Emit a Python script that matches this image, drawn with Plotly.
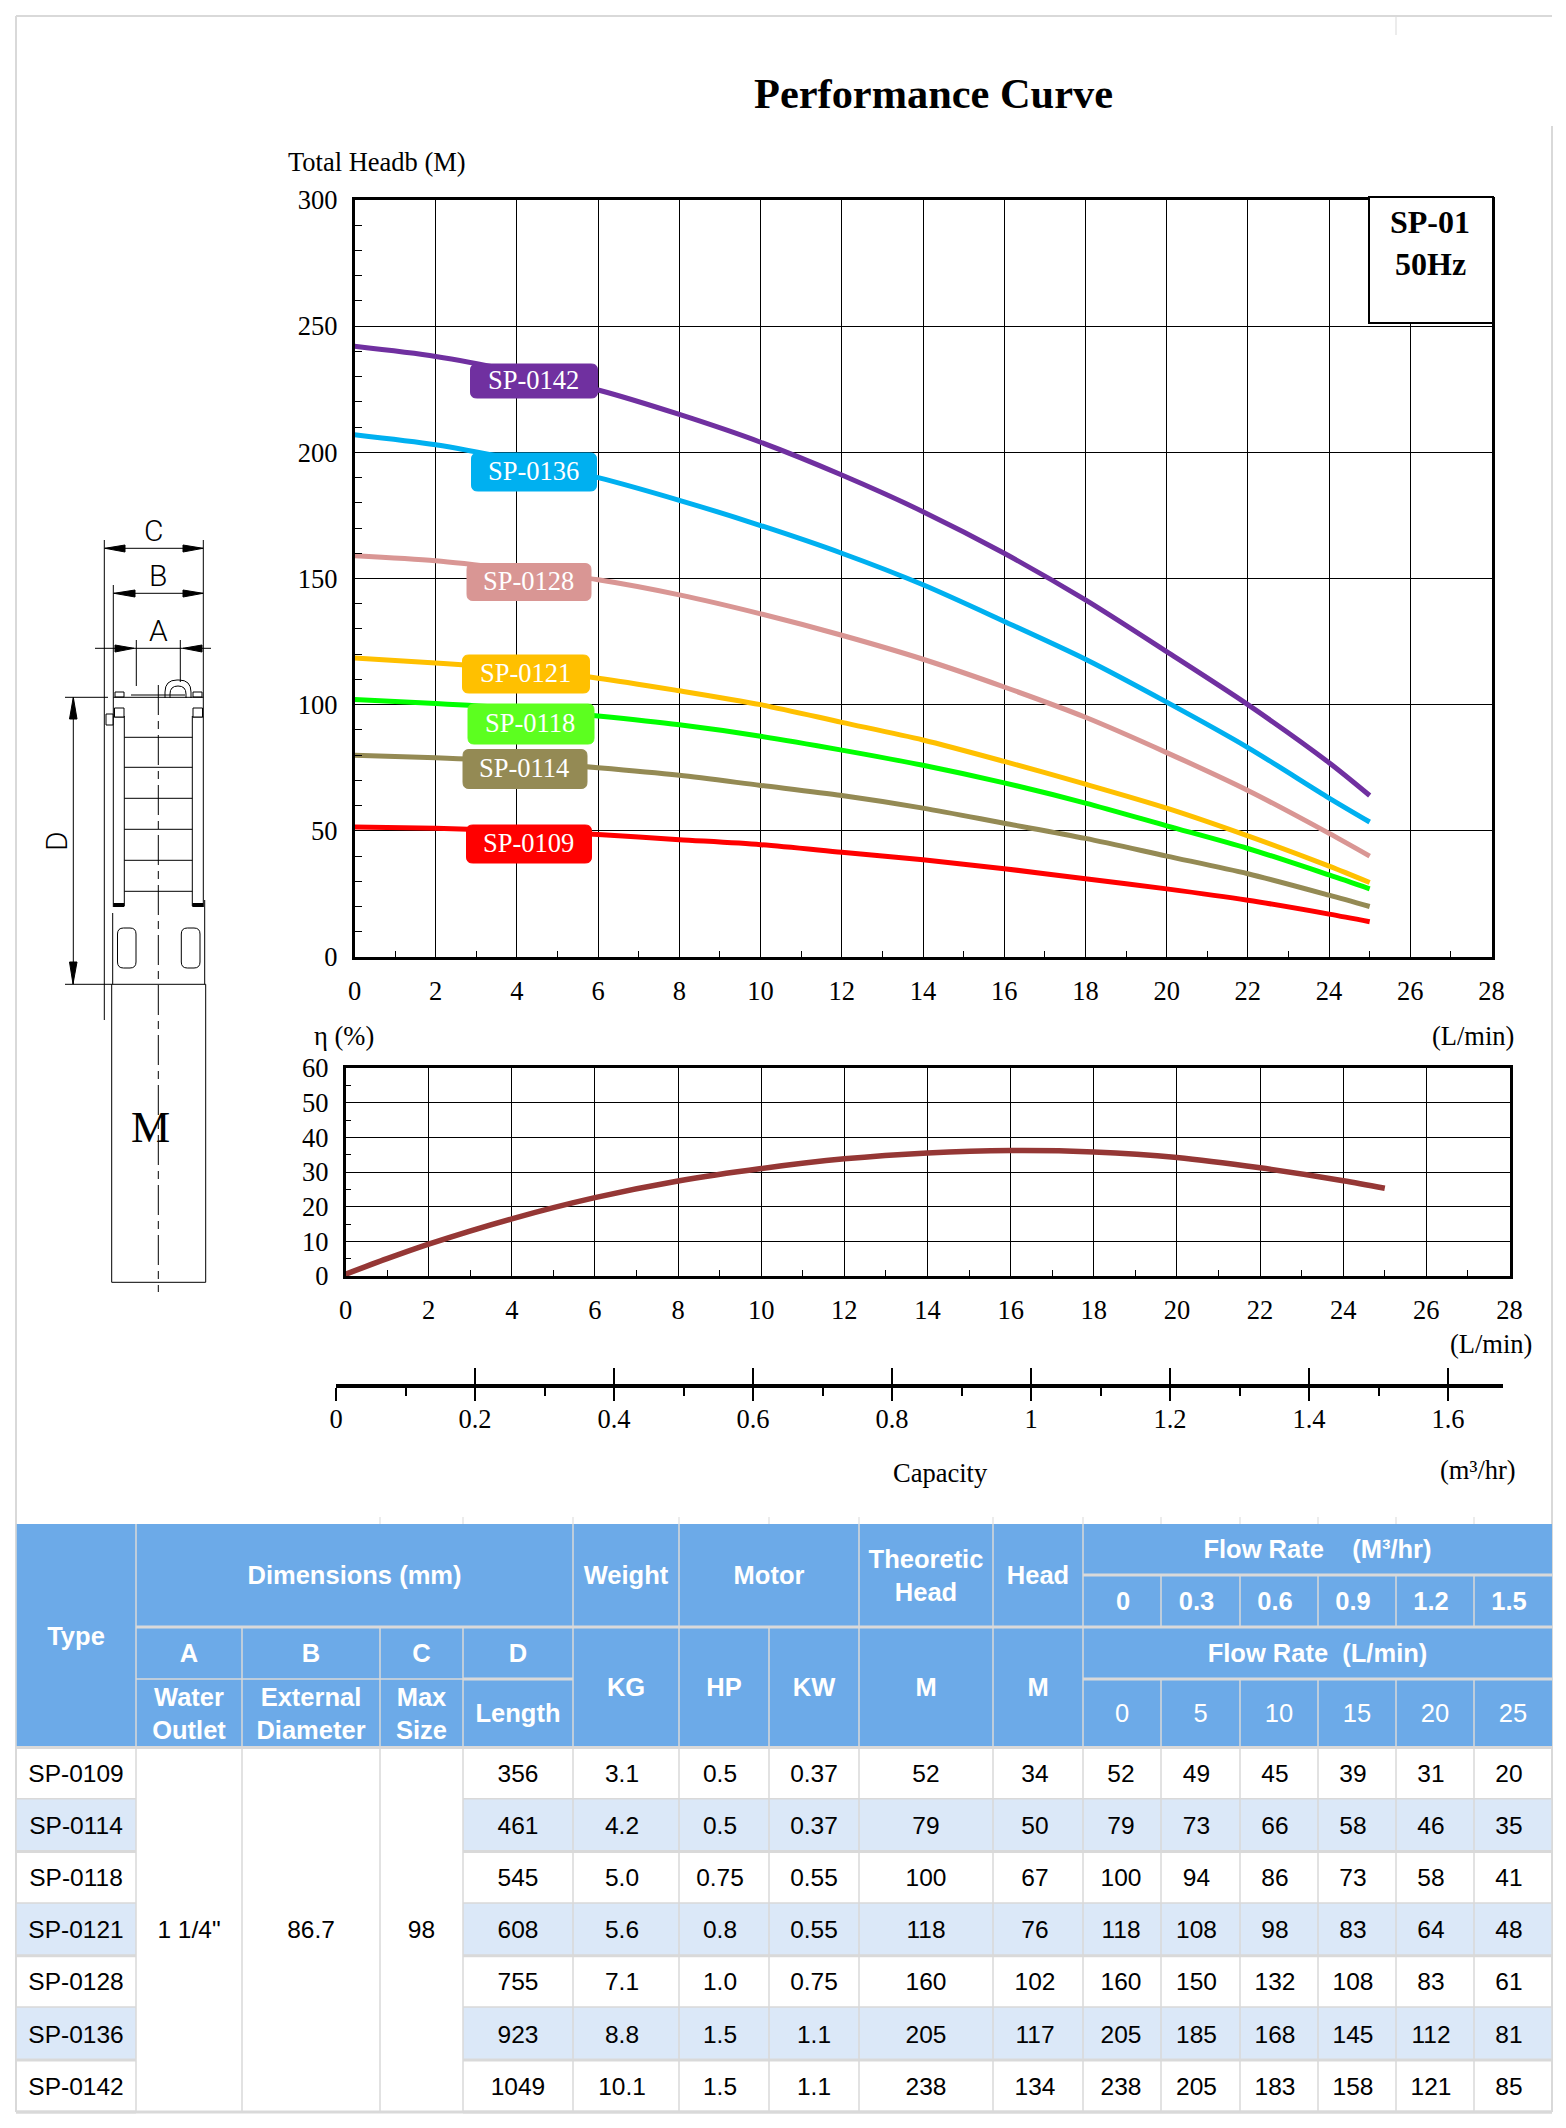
import plotly.graph_objects as go

# Head curves (flow in L/min)
FLOW = [0, 2, 4, 6, 8, 10, 12, 14, 16, 18, 20, 22, 24, 25]
HEAD_0142 = [242, 238, 232, 224.7, 215, 204, 191, 176.5, 160, 141.5, 121, 100, 77, 64]
HEAD_0136 = [207, 203, 197, 190, 181, 171, 160, 147.5, 133, 118, 101, 83, 63, 53.5]
HEAD_0128 = [159, 157, 153.5, 149.5, 143.5, 136, 127.5, 118, 107, 95, 81, 66, 49, 40]
HEAD_0121 = [118.5, 116.5, 114, 110.5, 105.5, 100, 93, 86, 77.5, 68.5, 59, 48, 36, 29.5]
HEAD_0118 = [102, 100.5, 98.5, 95.5, 92, 87.5, 82, 76, 69, 61, 52, 43, 32.5, 27]
HEAD_0114 = [80, 79, 77.5, 75, 72, 68, 64, 59, 53, 47, 40, 33, 24.5, 20]
HEAD_0109 = [51.5, 51, 50, 48.5, 46.5, 44.5, 41.5, 38.5, 35, 31, 27, 22.5, 17, 14]

# Efficiency curve
ETA_FLOW = [0, 1, 2, 4, 6, 8, 10, 12, 14, 16, 18, 20, 22, 24, 25]
ETA = [0.5, 5, 9.2, 16.5, 22.6, 27.4, 31, 33.8, 35.5, 36.2, 35.8, 34.2, 31.2, 27.5, 25.3]

# Table values
TYPES = ["SP-0109", "SP-0114", "SP-0118", "SP-0121", "SP-0128", "SP-0136", "SP-0142"]
LENGTH = ["356", "461", "545", "608", "755", "923", "1049"]
WEIGHT = ["3.1", "4.2", "5.0", "5.6", "7.1", "8.8", "10.1"]
MOTOR_HP = ["0.5", "0.5", "0.75", "0.8", "1.0", "1.5", "1.5"]
MOTOR_KW = ["0.37", "0.37", "0.55", "0.55", "0.75", "1.1", "1.1"]
THEORETIC = ["52", "79", "100", "118", "160", "205", "238"]
HEAD_M = ["34", "50", "67", "76", "102", "117", "134"]
FLOW_0 = ["52", "79", "100", "118", "160", "205", "238"]
FLOW_5 = ["49", "73", "94", "108", "150", "185", "205"]
FLOW_10 = ["45", "66", "86", "98", "132", "168", "183"]
FLOW_15 = ["39", "58", "73", "83", "108", "145", "158"]
FLOW_20 = ["31", "46", "58", "64", "83", "112", "121"]
FLOW_25 = ["20", "35", "41", "48", "61", "81", "85"]
M3HR_LABELS = ["0", "0.3", "0.6", "0.9", "1.2", "1.5"]
LMIN_LABELS = ["0", "5", "10", "15", "20", "25"]

#Page geometry----------------------------------------------------------------------------------------------------------
W, H = 1566, 2128
COL = [16, 136, 242, 380, 463, 573, 679, 769, 859, 993, 1083, 1161, 1240, 1318, 1396, 1474, 1552]
ROW = [1747.5, 1799.6, 1851.6, 1903.7, 1955.8, 2007.8, 2060, 2112]
HDR = [1524, 1575, 1627, 1679, 1747.5]
# the table text does not sit quite centred in the original
TEXT_DY = 2.5
BODY_DX = [0, 0, 0, 0, 0, -4, -4, 0, 0, -3, -1, -4, -4, -4, -4, -4]
M3HR_DX = [1, -4, -4, -4, -4, -4]
SERIF = "Liberation Serif"
SANS = "Liberation Sans"
BLUE = "#6caae8"
ALT = "#dbe8f8"
GRID = "#d9d9d9"

SERIES = [
    ("SP-0142", HEAD_0142, "#7030a0", "#7030a0", 534, 381),
    ("SP-0136", HEAD_0136, "#00b0f0", "#00b0f0", 534, 472),
    ("SP-0128", HEAD_0128, "#d99694", "#d99694", 529, 582),
    ("SP-0121", HEAD_0121, "#ffc000", "#ffc000", 526, 674),
    ("SP-0118", HEAD_0118, "#00ff00", "#5cff1f", 531, 724),
    ("SP-0114", HEAD_0114, "#948a54", "#948a54", 525, 769),
    ("SP-0109", HEAD_0109, "#ff0000", "#ff0000", 529, 844),
]
LABEL_W = [127, 125, 124, 127, 126, 124, 125]
LABEL_H = [34, 38, 37, 38, 40, 39, 38]

fig = go.Figure()
shapes = []
notes = []


def line(x0, y0, x1, y1, color="black", width=1, layer="above", dash=None):
    shapes.append(dict(type="line", xref="x3", yref="y3", x0=x0, y0=y0, x1=x1, y1=y1, layer=layer,
                       line=dict(color=color, width=width, dash=dash)))


def rect(x0, y0, x1, y1, fill, layer="below", border=None, bw=0):
    shapes.append(dict(type="rect", xref="x3", yref="y3", x0=x0, y0=y0, x1=x1, y1=y1, layer=layer,
                       fillcolor=fill, line=dict(color=border or fill, width=bw)))


def rounded(x0, y0, x1, y1, r, fill=None, color="black", width=1):
    p = (f"M{x0+r},{y0} L{x1-r},{y0} Q{x1},{y0} {x1},{y0+r} L{x1},{y1-r} Q{x1},{y1} {x1-r},{y1} "
         f"L{x0+r},{y1} Q{x0},{y1} {x0},{y1-r} L{x0},{y0+r} Q{x0},{y0} {x0+r},{y0} Z")
    shapes.append(dict(type="path", xref="x3", yref="y3", path=p, layer="above",
                       fillcolor=fill if fill else "rgba(0,0,0,0)", line=dict(color=color, width=width)))


def arrow(tx, ty, bx0, by0, bx1, by1):
    shapes.append(dict(type="path", xref="x3", yref="y3", layer="above", fillcolor="black",
                       path=f"M{tx},{ty} L{bx0},{by0} L{bx1},{by1} Z", line=dict(color="black", width=1)))


def note(x, y, text, size=26.5, family=SERIF, bold=False, color="black", angle=0, anchor="center", weight=None):
    notes.append(dict(xref="x3", yref="y3", x=x, y=y, text=text, showarrow=False, textangle=angle, xanchor=anchor,
                      yanchor="middle",
                      font=dict(family=family, size=size, color=color, weight=weight or (700 if bold else 400))))


#Charts-----------------------------------------------------------------------------------------------------------------
for name, head, color, _, _, _ in SERIES:
    fig.add_trace(go.Scatter(x=FLOW, y=head, mode="lines", name=name, showlegend=False, xaxis="x", yaxis="y",
                             line=dict(color=color, width=5, shape="spline", smoothing=0.8)))
fig.add_trace(go.Scatter(x=ETA_FLOW, y=ETA, mode="lines", showlegend=False, xaxis="x2", yaxis="y2",
                         line=dict(color="#953735", width=5.5, shape="spline", smoothing=0.8)))
# capacity scale needs something on its axes to be drawn
fig.add_trace(go.Scatter(x=[0], y=[0], mode="none", showlegend=False, xaxis="x4", yaxis="y4"))
fig.add_trace(go.Scatter(x=[0], y=[0], mode="none", showlegend=False, xaxis="x5", yaxis="y4"))


def dom_x(a, b):
    return [a / W, b / W]


def dom_y(top, bottom):
    return [1 - bottom / H, 1 - top / H]


tick_font = dict(family=SERIF, size=26.5, color="black")
base = dict(showgrid=True, gridcolor="black", gridwidth=1, showline=True, linecolor="black", mirror=True, automargin=False,
            zeroline=False, tickfont=tick_font, ticks="", showticklabels=True)
layout_axes = dict(
    xaxis=dict(base, domain=dom_x(354.5, 1491.5), range=[0, 28], dtick=2, linewidth=2.5, anchor="y", ticklabelstandoff=8,
               minor=dict(ticks="inside", dtick=1, ticklen=6, tickcolor="black", tickwidth=1, showgrid=False)),
    yaxis=dict(base, domain=dom_y(200, 957), range=[0, 300], dtick=50, linewidth=2.5, anchor="x", ticklabelstandoff=9,
               minor=dict(ticks="inside", dtick=10, ticklen=8, tickcolor="black", tickwidth=1, showgrid=False)),
    xaxis2=dict(base, domain=dom_x(345.5, 1509.5), range=[0, 28], dtick=2, linewidth=2.5, anchor="y2", ticklabelstandoff=8,
                minor=dict(ticks="inside", dtick=1, ticklen=6, tickcolor="black", tickwidth=1, showgrid=False)),
    yaxis2=dict(base, domain=dom_y(1068, 1276), range=[0, 60], dtick=10, linewidth=2.5, anchor="x2", ticklabelstandoff=9,
                minor=dict(ticks="inside", dtick=5, ticklen=6, tickcolor="black", tickwidth=1, showgrid=False)),
    xaxis3=dict(domain=[0, 1], range=[0, W], visible=False, anchor="y3", fixedrange=True, automargin=False),
    yaxis3=dict(domain=[0, 1], range=[H, 0], visible=False, anchor="x3", fixedrange=True, automargin=False),
    # capacity scale: 139 px per 0.2 m3/hr
    xaxis4=dict(domain=dom_x(336, 1503), range=[0, 0.2 * (1503 - 336) / 139], dtick=0.2, anchor="y4", showline=True,
                linecolor="black", linewidth=4, showgrid=False, zeroline=False, tickfont=tick_font, tickwidth=2,
                ticks="outside", ticklen=13, tickcolor="black", tickformat="~g", ticklabelstandoff=-5, automargin=False,
                minor=dict(ticks="outside", dtick=0.1, ticklen=8, tickcolor="black", tickwidth=2, showgrid=False)),
    xaxis5=dict(domain=dom_x(336, 1503), range=[0, 0.2 * (1503 - 336) / 139], dtick=0.2, anchor="y4", overlaying="x4",
                showgrid=False, zeroline=False, showticklabels=False, ticks="inside", ticklen=16, tickcolor="black",
                tickwidth=2, automargin=False),
    yaxis4=dict(domain=dom_y(1378, 1384), range=[0, 1], visible=False, anchor="x4", automargin=False),
)

# curve labels
for (name, _, _, fill, cx, cy), bw, bh in zip(SERIES, LABEL_W, LABEL_H):
    rounded(cx - bw / 2, cy - bh / 2, cx + bw / 2, cy + bh / 2, 6, fill=fill, color=fill)
    note(cx - 1, cy - 1, name, color="white")

# model box
rect(1369, 197, 1493, 323, "white", layer="above", border="black", bw=2)
note(1430, 222, "SP-01", size=32, bold=True)
note(1430, 264, "50Hz", size=32, bold=True)

note(933, 93, "Performance Curve", size=42.4, bold=True)
note(377, 162, "Total Headb (M)")
note(344, 1036, "η (%)")
note(1473, 1036, "(L/min)")
note(1491, 1344, "(L/min)")
note(940, 1473, "Capacity")
note(1478, 1470, "(m³/hr)")

#Page frame-------------------------------------------------------------------------------------------------------------
line(16, 16, 1552, 16, GRID, 2, "below")
line(16, 16, 16, 2112, GRID, 2, "below")
line(1552, 126, 1552, 2112, GRID, 2, "below")
line(1396, 16, 1396, 35, GRID, 1, "below")
for x in COL[3:-1]:
    line(x, 1517, x, 1524, GRID, 1, "below")

#Pump drawing-----------------------------------------------------------------------------------------------------------
# dimension lines
line(104.3, 540, 104.3, 1020)
line(203.3, 540, 203.3, 907)
line(113.3, 585, 113.3, 907)
line(136.3, 640, 136.3, 686)
line(180.3, 640, 180.3, 682)
line(104.3, 548.3, 203.3, 548.3)
line(113.3, 593.3, 203.3, 593.3)
line(95, 648.3, 211, 648.3)
line(65, 697.3, 108, 697.3)
line(65, 984.3, 205.7, 984.3)
line(73.3, 697.3, 73.3, 984.3)
arrow(105, 548.3, 125, 545, 125, 552)
arrow(203, 548.3, 183, 545, 183, 552)
arrow(114, 593.3, 135, 590, 135, 597)
arrow(203, 593.3, 183, 590, 183, 597)
arrow(134, 648.3, 115, 645, 115, 652)
arrow(183, 648.3, 202, 645, 202, 652)
arrow(73.3, 697.3, 69.5, 719, 77, 719)
arrow(73, 984, 69.5, 962, 77, 962)
note(153.5, 530, "C", size=30, family="Roboto", weight=300)
note(158, 575, "B", size=30, family="Roboto", weight=300)
note(158, 630, "A", size=30, family="Roboto", weight=300)
note(56, 841, "D", size=30, family="Roboto", weight=300, angle=-90)
note(150.7, 1127, "M", size=44)
# pipe section
line(124.3, 716, 124.3, 906)
line(192.3, 716, 192.3, 906)
for y in [737.3, 767.3, 798.3, 829.3, 860.3, 891.3]:
    line(124.3, y, 192.3, y)
line(113, 717, 124.3, 717)
line(192.3, 717, 203.3, 717)
rect(113.3, 903, 124.3, 907, "black", layer="above")
rect(192.3, 903, 203.3, 907, "black", layer="above")
rect(115, 692, 124, 697, "white", layer="above", border="black", bw=1)
rect(193, 692, 202, 697, "white", layer="above", border="black", bw=1)
rect(114.5, 708, 124, 717, "white", layer="above", border="black", bw=1)
rect(193, 708, 202.5, 717, "white", layer="above", border="black", bw=1)
rect(106, 714, 113, 725, "white", layer="above", border="black", bw=1)
rounded(165, 680, 191, 710, 12)
rounded(170, 686, 186, 710, 8)
rect(164, 698, 192, 712, "white", layer="above")
line(113.3, 697.3, 203.3, 697.3)
line(131, 695, 185, 695)
# motor
line(112.7, 913, 112.7, 984.3)
line(204.7, 900, 204.7, 984.3)
line(111.7, 984.3, 111.7, 1282.3)
line(205.7, 984.3, 205.7, 1282.3)
line(111.7, 1282.3, 205.7, 1282.3)
rounded(117.5, 928, 136, 968, 6)
rounded(181.3, 928, 200, 968, 6)
line(158.3, 685, 158.3, 1292, dash="30px,6px,8px,6px")

#Table------------------------------------------------------------------------------------------------------------------
# header cells: first column, last column, top, bottom, text, bold
C = COL
HEADER = [
    (0, 0, 0, 4, "Type", True),
    (1, 4, 0, 2, "Dimensions (mm)", True),
    (5, 5, 0, 2, "Weight", True),
    (6, 7, 0, 2, "Motor", True),
    (8, 8, 0, 2, "Theoretic<br>Head", True),
    (9, 9, 0, 2, "Head", True),
    (10, 15, 0, 1, "Flow Rate    (M³/hr)", True),
    (1, 1, 2, 3, "A", True), (2, 2, 2, 3, "B", True), (3, 3, 2, 3, "C", True), (4, 4, 2, 3, "D", True),
    (1, 1, 3, 4, "Water<br>Outlet", True), (2, 2, 3, 4, "External<br>Diameter", True), (3, 3, 3, 4, "Max<br>Size", True),
    (4, 4, 3, 4, "Length", True),
    (5, 5, 2, 4, "KG", True), (6, 6, 2, 4, "HP", True), (7, 7, 2, 4, "KW", True), (8, 8, 2, 4, "M", True), (9, 9, 2, 4, "M", True),
    (10, 15, 2, 3, "Flow Rate  (L/min)", True),
]
for i, t in enumerate(M3HR_LABELS):
    HEADER.append((10 + i, 10 + i, 1, 2, t, True))
for i, t in enumerate(LMIN_LABELS):
    HEADER.append((10 + i, 10 + i, 3, 4, t, False))

bold_x, bold_y, bold_t, thin_x, thin_y, thin_t = [], [], [], [], [], []
rect(C[0], HDR[0], C[-1], HDR[-1], BLUE)
for c0, c1, r0, r1, t, bold in HEADER:
    xm = (C[c0] + C[c1 + 1]) / 2
    ym = (HDR[r0] + HDR[r1]) / 2 + TEXT_DY
    if r0 == 1:
        xm += M3HR_DX[c0 - 10]
    if bold:
        bold_x.append(xm); bold_y.append(ym); bold_t.append(t)
    else:
        thin_x.append(xm); thin_y.append(ym); thin_t.append(t)
    line(C[c0], HDR[r1], C[c1 + 1], HDR[r1], GRID, 1.5 if c0 in (1, 2, 3) and r1 == 3 else 3, "below")
    line(C[c0], HDR[r0], C[c0], HDR[r1], GRID, 1.5, "below")

# body
columns = [TYPES, None, None, None, LENGTH, WEIGHT, MOTOR_HP, MOTOR_KW, THEORETIC, HEAD_M,
           FLOW_0, FLOW_5, FLOW_10, FLOW_15, FLOW_20, FLOW_25]
body_x, body_y, body_t = [], [], []
for r in range(len(TYPES)):
    if r % 2:
        rect(C[0], ROW[r], C[1], ROW[r + 1], ALT)
        rect(C[4], ROW[r], C[-1], ROW[r + 1], ALT)
    for k, col in enumerate(columns):
        if col is None:
            continue
        body_x.append((C[k] + C[k + 1]) / 2 + BODY_DX[k])
        body_y.append((ROW[r] + ROW[r + 1]) / 2 + TEXT_DY)
        body_t.append(col[r])
    line(C[0], ROW[r + 1], C[1], ROW[r + 1], GRID, 3, "below")
    line(C[4], ROW[r + 1], C[-1], ROW[r + 1], GRID, 3, "below")
line(C[0], ROW[-1], C[-1], ROW[-1], GRID, 3, "below")
for x in C:
    line(x, ROW[0], x, ROW[-1], GRID, 1.5, "below")
for k, t in [(1, '1 1/4"'), (2, "86.7"), (3, "98")]:
    body_x.append((C[k] + C[k + 1]) / 2)
    body_y.append((ROW[0] + ROW[-1]) / 2 + TEXT_DY)
    body_t.append(t)

fig.add_trace(go.Scatter(x=bold_x, y=bold_y, text=bold_t, mode="text", showlegend=False, xaxis="x3", yaxis="y3",
                         textfont=dict(family=SANS, size=25.5, color="white", weight=700)))
fig.add_trace(go.Scatter(x=thin_x, y=thin_y, text=thin_t, mode="text", showlegend=False, xaxis="x3", yaxis="y3",
                         textfont=dict(family=SANS, size=25.5, color="white")))
fig.add_trace(go.Scatter(x=body_x, y=body_y, text=body_t, mode="text", showlegend=False, xaxis="x3", yaxis="y3",
                         textfont=dict(family=SANS, size=24.5, color="black")))

fig.update_layout(width=W, height=H, margin=dict(l=0, r=0, t=0, b=0, pad=0), paper_bgcolor="white",
                  plot_bgcolor="rgba(0,0,0,0)", showlegend=False, hovermode=False, shapes=shapes, annotations=notes,
                  **layout_axes)
# page margin off so the figure sits flush with the window
fig.write_html("out.html", config={"displayModeBar": False},
               post_script="document.body.style.margin='0';document.documentElement.style.overflow='hidden';")
